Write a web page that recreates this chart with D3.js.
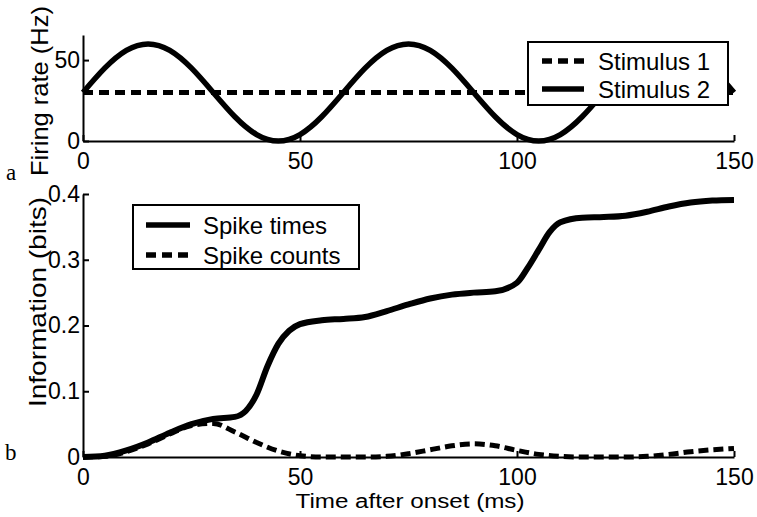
<!DOCTYPE html>
<html><head><meta charset="utf-8">
<script src="https://cdn.jsdelivr.net/npm/d3@7"></script>
<style>body{margin:0;background:#fff} svg{display:block}</style>
</head><body><svg id="c" width="757" height="517"></svg>
<script>
// ---- data ----
const stimTime = [0,5,10,15,20,25,30,35,40,45,50,55,60,65,70,75,80,85,90,95,100,105,110,115,120,125,130,135,140,145,150];
const stimulus1 = [30,30,30,30,30,30,30,30,30,30,30,30,30,30,30,30,30,30,30,30,30,30,30,30,30,30,30,30,30,30,30];
const stimulus2 = [30,45,56,60,56,45,30,15,4,0,4,15,30,45,56,60,56,45,30,15,4,0,4,15,30,45,56,60,56,45,30];

const infoTime = [0,5,10,15,20,25,30,35,37.5,40,42.5,45,47.5,50,55,60,65,70,75,80,85,90,95,100,102.5,105,107.5,110,115,120,125,130,135,140,145,150];
const spikeTimes = [0,0.002,0.01,0.022,0.037,0.05,0.058,0.061,0.07,0.095,0.138,0.172,0.192,0.202,0.208,0.21,0.213,0.222,0.232,0.241,0.247,0.25,0.252,0.265,0.288,0.315,0.342,0.357,0.364,0.365,0.367,0.373,0.381,0.387,0.39,0.391];

const countTime = [0,5,10,15,20,25,30,35,40,45,50,55,60,65,70,75,80,85,90,95,100,105,110,115,120,125,130,135,140,145,150];
const spikeCounts = [0,0.001,0.008,0.02,0.035,0.048,0.051,0.038,0.022,0.009,0.002,0,0,0,0.001,0.005,0.011,0.017,0.02,0.017,0.01,0.004,0.001,0,0,0,0.001,0.004,0.008,0.011,0.013];

const xTicks = [0,50,100,150];
const rateTicks = [0,50];
const infoTicks = [0,0.1,0.2,0.3,0.4];
const tickLabelsInfo = ["0","0.1","0.2","0.3","0.4"];

// ---- layout ----
const svg = d3.select("#c");
const SANS = "'Liberation Sans', Arial, Helvetica, sans-serif";
const SERIF = "'Liberation Serif', 'Times New Roman', serif";

const x = d3.scaleLinear().domain([0,150]).range([83,734]);
const yTop = d3.scaleLinear().domain([0,65.5]).range([141,35]);
const yBot = d3.scaleLinear().domain([0,0.4]).range([457,194]);

function styleAxis(g){
  g.selectAll("path.domain").attr("stroke","#000").attr("stroke-width",2);
  g.selectAll(".tick line").attr("stroke","#000").attr("stroke-width",2);
  g.selectAll("text").attr("font-family",SANS).attr("font-size",23).attr("fill","#000");
}

function drawAxes(y, yTicks, yFmt, bottomY){
  const gx = svg.append("g").attr("transform",`translate(0,${bottomY})`)
    .call(d3.axisBottom(x).tickValues(xTicks).tickSizeInner(-6).tickSizeOuter(0).tickPadding(11.5).tickFormat(d3.format("d")));
  styleAxis(gx);
  const gy = svg.append("g").attr("transform",`translate(83,0)`)
    .call(d3.axisLeft(y).tickValues(yTicks).tickSizeInner(-6).tickSizeOuter(0).tickPadding(3).tickFormat(yFmt));
  styleAxis(gy);
}

drawAxes(yTop, rateTicks, d3.format("d"), 141);
drawAxes(yBot, infoTicks, (d,i)=>tickLabelsInfo[i], 457);

// ---- top panel lines ----
const lineTop1 = d3.line().x((d,i)=>x(stimTime[i])).y(d=>yTop(d)).curve(d3.curveLinear);
const lineTop2 = d3.line().x((d,i)=>x(stimTime[i])).y(d=>yTop(d)).curve(d3.curveNatural);

svg.append("path").attr("d",lineTop1(stimulus1)).attr("fill","none").attr("stroke","#000")
  .attr("stroke-width",5).attr("stroke-dasharray","10,6");
svg.append("path").attr("d",lineTop2(stimulus2)).attr("fill","none").attr("stroke","#000")
  .attr("stroke-width",5.5);

// ---- bottom panel lines ----
const lineInfo = d3.line().x((d,i)=>x(infoTime[i])).y(d=>yBot(d)).curve(d3.curveMonotoneX);
const lineCount = d3.line().x((d,i)=>x(countTime[i])).y(d=>yBot(d)).curve(d3.curveMonotoneX);

svg.append("path").attr("d",lineInfo(spikeTimes)).attr("fill","none").attr("stroke","#000")
  .attr("stroke-width",6);
svg.append("path").attr("d",lineCount(spikeCounts)).attr("fill","none").attr("stroke","#000")
  .attr("stroke-width",5).attr("stroke-dasharray","10,5");

// ---- legends ----
function legend(x0,y0,w,h,items,lx0,lx1,tx){
  svg.append("rect").attr("x",x0).attr("y",y0).attr("width",w).attr("height",h)
    .attr("fill","#fff").attr("stroke","#000").attr("stroke-width",2);
  items.forEach(it=>{
    svg.append("line").attr("x1",lx0).attr("x2",lx1).attr("y1",it.y).attr("y2",it.y)
      .attr("stroke","#000").attr("stroke-width",5.5).attr("stroke-dasharray",it.dash?"10,6":null);
    svg.append("text").attr("x",tx).attr("y",it.y).attr("dy","0.36em")
      .attr("font-family",SANS).attr("font-size",24).text(it.label);
  });
}
legend(528,42,200,63,[{label:"Stimulus 1",y:61,dash:true},{label:"Stimulus 2",y:89,dash:false}],542,584,598);
legend(133,205,226,64,[{label:"Spike times",y:225,dash:false},{label:"Spike counts",y:255,dash:true}],146,190,203);

// ---- axis titles ----
svg.append("text").attr("transform","translate(48,91) rotate(-90)").attr("text-anchor","middle")
  .attr("font-family",SANS).attr("font-size",24).attr("textLength",170).attr("lengthAdjust","spacingAndGlyphs")
  .text("Firing rate (Hz)");
svg.append("text").attr("transform","translate(46,302) rotate(-90)").attr("text-anchor","middle")
  .attr("font-family",SANS).attr("font-size",24).attr("textLength",210).attr("lengthAdjust","spacingAndGlyphs")
  .text("Information (bits)");
svg.append("text").attr("x",410).attr("y",508).attr("text-anchor","middle")
  .attr("font-family",SANS).attr("font-size",20).attr("textLength",229).attr("lengthAdjust","spacingAndGlyphs")
  .text("Time after onset (ms)");

// panel letters
svg.append("text").attr("x",6).attr("y",180).attr("font-family",SERIF).attr("font-size",23).text("a");
svg.append("text").attr("x",5).attr("y",460).attr("font-family",SERIF).attr("font-size",23).text("b");
</script></body></html>
